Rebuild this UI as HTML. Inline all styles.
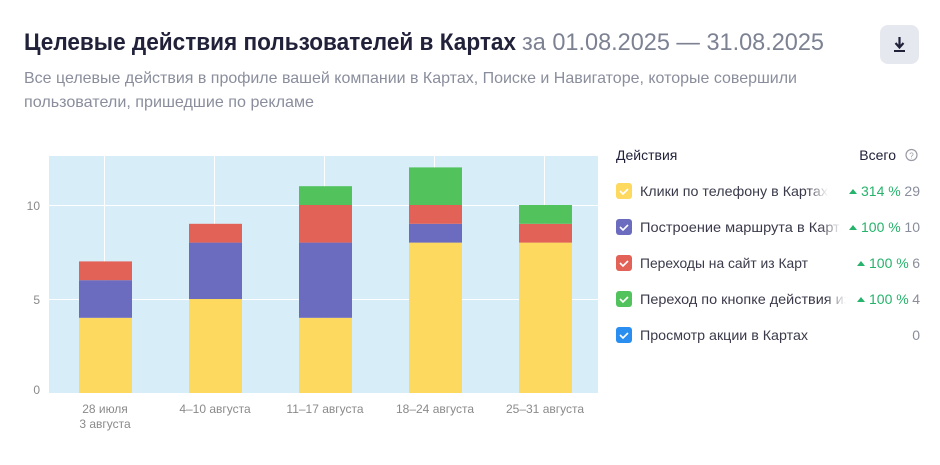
<!DOCTYPE html>
<html><head><meta charset="utf-8"><style>
body{margin:0;background:#fff;width:940px;height:460px;overflow:hidden;font-family:"Liberation Sans",sans-serif}
</style></head><body>
<svg width="940" height="460" xmlns="http://www.w3.org/2000/svg" font-family="Liberation Sans, sans-serif">
<text x="24" y="50" font-size="24" font-weight="bold" fill="#21213a" textLength="492" lengthAdjust="spacingAndGlyphs">Целевые действия пользователей в Картах</text>
<text x="522" y="50" font-size="24" fill="#7d8293" textLength="302" lengthAdjust="spacingAndGlyphs">за 01.08.2025 — 31.08.2025</text>
<rect x="880" y="25" width="39" height="39" rx="8" fill="#e6e8f0"/>
<path d="M899.5 37v10M895.5 43l4 4.5 4-4.5" stroke="#21213a" stroke-width="2.2" fill="none"/>
<rect x="894" y="50" width="11" height="2" fill="#21213a"/>
<text x="24" y="83" font-size="16" fill="#8a8e9c" textLength="773" lengthAdjust="spacingAndGlyphs">Все целевые действия в профиле вашей компании в Картах, Поиске и Навигаторе, которые совершили</text>
<text x="24" y="107" font-size="16" fill="#8a8e9c" textLength="290" lengthAdjust="spacingAndGlyphs">пользователи, пришедшие по рекламе</text>

<rect x="49" y="156" width="549" height="237" fill="#d7eef9"/>
<g stroke="#fff" stroke-width="1">
<line x1="49" y1="205.5" x2="598" y2="205.5"/><line x1="49" y1="299.5" x2="598" y2="299.5"/>
<line x1="104.5" y1="156" x2="104.5" y2="393"/><line x1="214.5" y1="156" x2="214.5" y2="393"/>
<line x1="324.5" y1="156" x2="324.5" y2="393"/><line x1="434.5" y1="156" x2="434.5" y2="393"/>
<line x1="544.5" y1="156" x2="544.5" y2="393"/>
</g>
<line x1="49" y1="393.5" x2="598" y2="393.5" stroke="#fff"/>
<g font-size="12" fill="#8a8a8a" text-anchor="end">
<text x="40" y="210">10</text><text x="40" y="304">5</text><text x="40" y="394">0</text>
</g>
<g>
<rect x="79" y="317.8" width="53" height="75.2" fill="#fdd960"/>
<rect x="79" y="280.2" width="53" height="37.6" fill="#6b6bbf"/>
<rect x="79" y="261.4" width="53" height="18.8" fill="#e26257"/>

<rect x="189" y="299" width="53" height="94" fill="#fdd960"/>
<rect x="189" y="242.6" width="53" height="56.4" fill="#6b6bbf"/>
<rect x="189" y="223.8" width="53" height="18.8" fill="#e26257"/>

<rect x="299" y="317.8" width="53" height="75.2" fill="#fdd960"/>
<rect x="299" y="242.6" width="53" height="75.2" fill="#6b6bbf"/>
<rect x="299" y="205" width="53" height="37.6" fill="#e26257"/>
<rect x="299" y="186.2" width="53" height="18.8" fill="#52c25d"/>

<rect x="409" y="242.6" width="53" height="150.4" fill="#fdd960"/>
<rect x="409" y="223.8" width="53" height="18.8" fill="#6b6bbf"/>
<rect x="409" y="205" width="53" height="18.8" fill="#e26257"/>
<rect x="409" y="167.4" width="53" height="37.6" fill="#52c25d"/>

<rect x="519" y="242.6" width="53" height="150.4" fill="#fdd960"/>
<rect x="519" y="223.8" width="53" height="18.8" fill="#e26257"/>
<rect x="519" y="205" width="53" height="18.8" fill="#52c25d"/>
</g>
<g font-size="12" fill="#8a8a8a" text-anchor="middle">
<text x="105" y="413">28 июля</text><text x="105" y="428">3 августа</text>
<text x="215" y="413">4–10 августа</text>
<text x="325" y="413">11–17 августа</text>
<text x="435" y="413">18–24 августа</text>
<text x="545" y="413">25–31 августа</text>
</g>

<defs>
<linearGradient id="fd"><stop offset="0" stop-color="#fff" stop-opacity="0"/><stop offset="1" stop-color="#fff"/></linearGradient>
<clipPath id="c1"><rect x="600" y="170" width="228" height="40"/></clipPath>
<clipPath id="c2"><rect x="600" y="210" width="241" height="35"/></clipPath>
<clipPath id="c4"><rect x="600" y="280" width="246" height="35"/></clipPath>
</defs>
<text x="616" y="160" font-size="14" fill="#21213a">Действия</text>
<text x="896" y="160" font-size="14" fill="#21213a" text-anchor="end">Всего</text>
<circle cx="911.5" cy="155" r="5.5" fill="none" stroke="#9a9aa5" stroke-width="1.2"/>
<text x="911.5" y="158.5" font-size="8" fill="#9a9aa5" text-anchor="middle">?</text>

<g font-size="14" fill="#3a3a4a">
<rect x="616" y="183" width="16" height="16" rx="3" fill="#fdd960"/>
<text x="640" y="196" clip-path="url(#c1)" textLength="188" lengthAdjust="spacingAndGlyphs">Клики по телефону в Картах</text>
<rect x="616" y="219" width="16" height="16" rx="3" fill="#6b6bbf"/>
<text x="640" y="232" clip-path="url(#c2)" textLength="215" lengthAdjust="spacingAndGlyphs">Построение маршрута в Картах</text>
<rect x="616" y="255" width="16" height="16" rx="3" fill="#e26257"/>
<text x="640" y="268" textLength="168" lengthAdjust="spacingAndGlyphs">Переходы на сайт из Карт</text>
<rect x="616" y="291" width="16" height="16" rx="3" fill="#52c25d"/>
<text x="640" y="304" clip-path="url(#c4)" textLength="245" lengthAdjust="spacingAndGlyphs">Переход по кнопке действия из Карт</text>
<rect x="616" y="327" width="16" height="16" rx="3" fill="#2a8ef0"/>
<text x="640" y="340" textLength="168" lengthAdjust="spacingAndGlyphs">Просмотр акции в Картах</text>
</g>
<rect x="808" y="180" width="20" height="22" fill="url(#fd)"/>
<rect x="821" y="216" width="20" height="22" fill="url(#fd)"/>
<rect x="826" y="288" width="20" height="22" fill="url(#fd)"/>
<g stroke="#fff" stroke-width="1.6" fill="none">
<path d="M620 191l3 3 5-5"/><path d="M620 227l3 3 5-5"/><path d="M620 263l3 3 5-5"/><path d="M620 299l3 3 5-5"/><path d="M620 335l3 3 5-5"/>
</g>
<g font-size="14" fill="#26b36b">
<path d="M849 194l4-5 4 5z" fill="#26b36b"/><text x="861" y="196">314 %</text>
<path d="M849 230l4-5 4 5z" fill="#26b36b"/><text x="861" y="232">100 %</text>
<path d="M857 266l4-5 4 5z" fill="#26b36b"/><text x="869" y="268">100 %</text>
<path d="M857 302l4-5 4 5z" fill="#26b36b"/><text x="869" y="304">100 %</text>
</g>
<g font-size="14" fill="#8a8e9c" text-anchor="end">
<text x="920" y="196">29</text><text x="920" y="232">10</text><text x="920" y="268">6</text><text x="920" y="304">4</text><text x="920" y="340">0</text>
</g>
</svg>
</body></html>
